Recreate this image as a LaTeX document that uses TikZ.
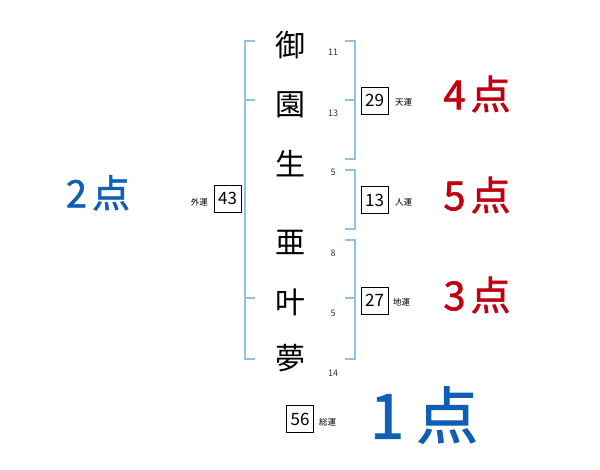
\documentclass[tikz,border=0pt]{standalone}
\usepackage{fontspec}
\newfontfamily\jp{Noto Sans CJK JP}
\newfontfamily\jpb[FakeBold=1.5]{Noto Sans CJK JP}
\definecolor{brk}{HTML}{8FC3E6}
\definecolor{redpt}{HTML}{C00010}
\definecolor{bluept}{HTML}{0F5FB4}
\begin{document}
\begin{tikzpicture}[x=1pt,y=-1pt,
  kanji/.style={font=\jp\fontsize{30}{30}\selectfont, inner sep=0pt},
  strokes/.style={font=\jp\fontsize{9}{9}\selectfont, inner sep=0pt, text=black!80},
  numbox/.style={draw, line width=0.8pt, minimum width=27pt, minimum height=27pt, inner sep=0pt, font=\jp\fontsize{17}{17}\selectfont},
  unlabel/.style={font=\jp\fontsize{8.5}{8.5}\selectfont, inner sep=0pt},
  redscore/.style={font=\jpb\fontsize{40}{40}\selectfont, text=redpt, inner sep=0pt},
  bluescore/.style={font=\jpb\fontsize{38}{38}\selectfont, text=bluept, inner sep=0pt},
  bracket/.style={draw=brk, line width=1.6pt}]
\useasboundingbox (0,0) rectangle (600,470);
% characters
\node[kanji] (c1) at (290,45) {御};
\node[kanji] (c2) at (290,105) {園};
\node[kanji] (c3) at (290,164) {生};
\node[kanji] (c4) at (290,242) {亜};
\node[kanji] (c5) at (290,302) {叶};
\node[kanji] (c6) at (290,358) {夢};
\node[strokes] (s1) at (333,52) {11};
\node[strokes] (s2) at (333,113) {13};
\node[strokes] (s3) at (333,172) {5};
\node[strokes] (s4) at (333,253) {8};
\node[strokes] (s5) at (333,313) {5};
\node[strokes] (s6) at (333,373) {14};
% left bracket
\coordinate (la) at (255,41);
\coordinate (lb) at (255,359);
\draw[bracket] (la) -- (245,41) -- (245,359) -- (lb);
\coordinate (lm1) at (245,100);
\coordinate (lm1e) at (255,100);
\coordinate (lm2) at (245,298);
\coordinate (lm2e) at (255,298);
\draw[bracket] (lm1) -- (lm1e);
\draw[bracket] (lm2) -- (lm2e);
% right brackets
\draw[bracket] (345,41) -- (355,41) -- (355,159) -- (345,159);
\draw[bracket] (345,100) -- (355,100);
\draw[bracket] (345,170) -- (355,170) -- (355,229) -- (345,229);
\draw[bracket] (345,240) -- (355,240) -- (355,359) -- (345,359);
\draw[bracket] (345,298) -- (355,298);
% boxes
\node[numbox] (b29) at (374.5,100.5) {29};
\node[unlabel, anchor=west] (t29) at (395,102) {天運};
\node[numbox] (b13) at (374.5,200) {13};
\node[unlabel, anchor=west] (t13) at (395,202) {人運};
\node[numbox] (b27) at (374.5,300.5) {27};
\node[unlabel, anchor=west] (t27) at (393,302) {地運};
\node[numbox] (b43) at (227.5,198.5) {43};
\node[unlabel, anchor=east] (t43) at (208,202) {外運};
\node[numbox] (b56) at (300,419) {56};
\node[unlabel, anchor=west] (t56) at (319,422) {総運};
% scores
\node[redscore] (p29) at (477,94) {4\hspace{5pt}点};
\node[redscore] (p13) at (477,195) {5\hspace{5pt}点};
\node[redscore] (p27) at (477,295) {3\hspace{5pt}点};
\node[bluescore] (p43) at (98,193) {2\hspace{5pt}点};
\node[font=\jpb\fontsize{62}{62}\selectfont, text=bluept, inner sep=0pt] (p56) at (424,415) {1\hspace{12pt}点};
\end{tikzpicture}
\end{document}
